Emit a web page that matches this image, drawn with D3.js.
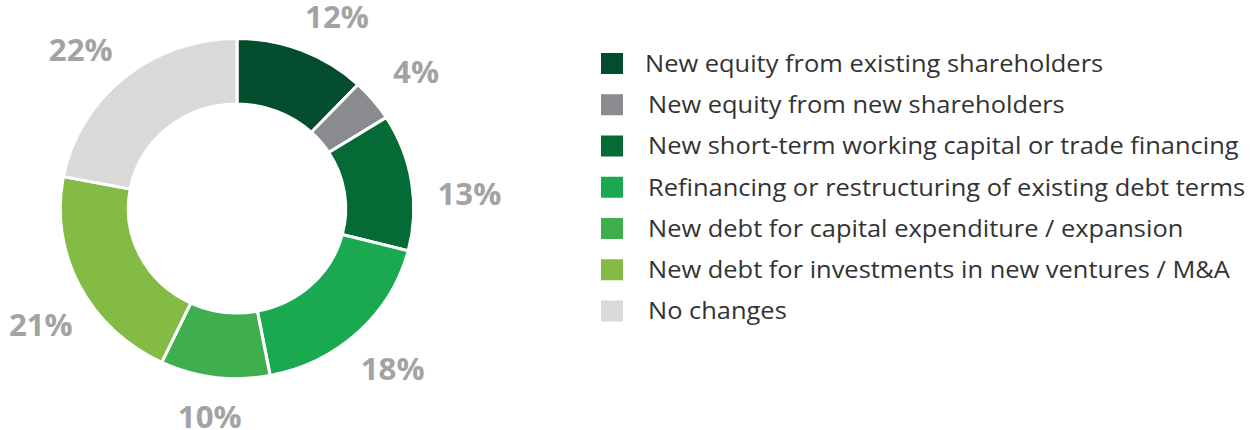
<!DOCTYPE html>
<html>
<head>
<meta charset="utf-8">
<script src="https://cdnjs.cloudflare.com/ajax/libs/d3/7.8.5/d3.min.js"></script>
<style>
  body { margin: 0; background: #fff; }
  .chart { width: 1256px; height: 430px; }
  .slice__label { font-family: "Open Sans", sans-serif; font-weight: 700; font-size: 30px; fill: #a3a3a3; }
  .legend__text { font-family: "Open Sans", sans-serif; font-size: 24px; fill: #333333; }
</style>
</head>
<body>
<div class="chart"></div>
<script>
// data
const categories = [
  'New equity from existing shareholders',
  'New equity from new shareholders',
  'New short-term working capital or trade financing',
  'Refinancing or restructuring of existing debt terms',
  'New debt for capital expenditure / expansion',
  'New debt for investments in new ventures / M&A',
  'No changes'
]
const shares = [12, 4, 13, 18, 10, 21, 22]
const colors = ['#034c2d', '#898b8e', '#046b37', '#1aa850', '#3fae4f', '#84bb45', '#d9d9d8']

// small angular nudges (degrees) so labels sit like the reference layout
const labelTurn = [5, 1, 5, 0, 0, -4.6, -3.8]

const width = 1256
const height = 430

const svg = d3.select('.chart')
  .append('svg')
  .attr('width', width)
  .attr('height', height)

// the reference artwork is slightly stretched horizontally
const stretch = 1.04
const cx = 237
const cy = 208.5
const outerR = 170
const innerR = 104.5

const pie = d3.pie().sort(null).value(d => d)
const arcs = pie(shares)

const arc = d3.arc()
  .innerRadius(innerR)
  .outerRadius(outerR)

const donut = svg.append('g')
  .attr('transform', `translate(${cx},${cy}) scale(${stretch},1)`)

donut.selectAll('path')
  .data(arcs)
  .join('path')
  .attr('d', arc)
  .attr('fill', (d, i) => colors[i])
  .attr('stroke', '#fff')
  .attr('stroke-width', 3)

// labels outside each slice
const labelPos = function(d, i) {
  const a = (d.startAngle + d.endAngle) / 2 + labelTurn[i] * Math.PI / 180
  const r = 207 + 17 * Math.abs(Math.sin(a))
  return [cx + Math.sin(a) * r * stretch, cy - Math.cos(a) * r]
}

svg.append('g')
  .selectAll('text')
  .data(arcs)
  .join('text')
  .attr('class', 'slice__label')
  .attr('text-anchor', 'middle')
  .attr('dominant-baseline', 'central')
  .attr('transform', (d, i) => {
    const [x, y] = labelPos(d, i)
    return `translate(${x},${y}) scale(${stretch},1)`
  })
  .text(d => `${d.data}%`)

// legend
const rowY = d3.scalePoint()
  .domain(categories)
  .range([63.5, 311])

const legend = svg.append('g')
  .selectAll('g')
  .data(categories)
  .join('g')
  .attr('transform', d => `translate(601,${rowY(d)})`)

legend.append('rect')
  .attr('x', 0)
  .attr('y', -10.5)
  .attr('width', 22)
  .attr('height', 21)
  .attr('fill', (d, i) => colors[i])

legend.append('text')
  .attr('class', 'legend__text')
  .attr('transform', (d, i) => `translate(${i === 0 ? 44 : 47},0) scale(1.06,1)`)
  .attr('dy', '0.35em')
  .text(d => d)
</script>
</body>
</html>
